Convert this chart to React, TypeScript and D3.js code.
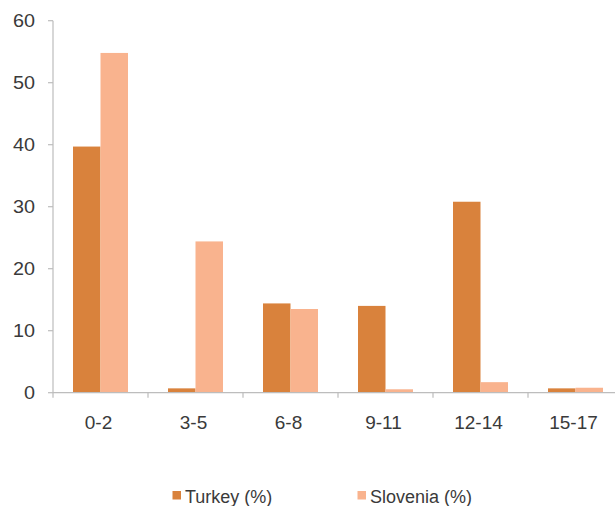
import React from "react";
import * as d3 from "d3";

const categories = ["0-2", "3-5", "6-8", "9-11", "12-14", "15-17"];
const turkey = [39.7, 0.7, 14.4, 14.0, 30.8, 0.7];
const slovenia = [54.8, 24.4, 13.5, 0.55, 1.7, 0.8];
const yTicks = [0, 10, 20, 30, 40, 50, 60];
const seriesNames = ["Turkey (%)", "Slovenia (%)"];
const colors = ["#D9823C", "#F9B38E"];

const W = 615;
const H = 506;
const x0 = 53;
const x1 = 623;
const yTop = 20.7;
const yBottom = 392.7;

export default function App() {
  const x = d3.scaleBand<string>().domain(categories).range([x0, x1]);
  const y = d3.scaleLinear().domain([0, 60]).range([yBottom, yTop]);
  const inner = d3
    .scaleBand<number>()
    .domain([0, 1])
    .range([0, 55]);
  const groupOffset = (x.bandwidth() - 55) / 2;
  const series = [turkey, slovenia];
  const axisColor = "#BDBDBD";
  const textColor = "#3A3A3A";
  const font = "Arial, 'Liberation Sans', sans-serif";

  return (
    <svg
      width={W}
      height={H}
      style={{ position: "absolute", left: 0, top: 0, background: "#fff" }}
      fontFamily={font}
    >
      {/* bars */}
      {series.map((vals, si) =>
        vals.map((v, i) => (
          <rect
            key={`${si}-${i}`}
            x={(x(categories[i]) ?? 0) + groupOffset + (inner(si) ?? 0)}
            y={y(v)}
            width={inner.bandwidth()}
            height={yBottom - y(v)}
            fill={colors[si]}
          />
        ))
      )}

      {/* y axis */}
      <line x1={x0} x2={x0} y1={yTop} y2={yBottom} stroke={axisColor} strokeWidth={1.2} />
      {yTicks.map((t) => (
        <g key={t}>
          <line x1={x0 - 5} x2={x0} y1={y(t)} y2={y(t)} stroke={axisColor} strokeWidth={1.2} />
          <text
            transform={`translate(${x0 - 18},${y(t) + 6.3}) scale(1.1,1)`}
            textAnchor="end"
            fontSize={18}
            fill={textColor}
          >
            {t}
          </text>
        </g>
      ))}

      {/* x axis */}
      <line x1={x0} x2={x1} y1={yBottom} y2={yBottom} stroke={axisColor} strokeWidth={1.2} />
      {categories.map((c, i) => (
        <line
          key={`t${i}`}
          x1={(x(c) ?? 0) + x.bandwidth()}
          x2={(x(c) ?? 0) + x.bandwidth()}
          y1={yBottom}
          y2={yBottom + 5}
          stroke={axisColor}
          strokeWidth={1.2}
        />
      ))}
      <line x1={x0} x2={x0} y1={yBottom} y2={yBottom + 5} stroke={axisColor} strokeWidth={1.2} />
      {categories.map((c) => (
        <text
          key={c}
          x={(x(c) ?? 0) + x.bandwidth() / 2 - 2}
          y={428.5}
          textAnchor="middle"
          fontSize={19}
          fill={textColor}
        >
          {c}
        </text>
      ))}

      {/* legend */}
      {seriesNames.map((n, i) => {
        const lx = i === 0 ? 172.5 : 357.5;
        return (
          <g key={n}>
            <rect x={lx} y={491} width={8.5} height={8.5} fill={colors[i]} />
            <text x={lx + 12.5} y={503} fontSize={18} fill={textColor}>
              {n}
            </text>
          </g>
        );
      })}
    </svg>
  );
}
